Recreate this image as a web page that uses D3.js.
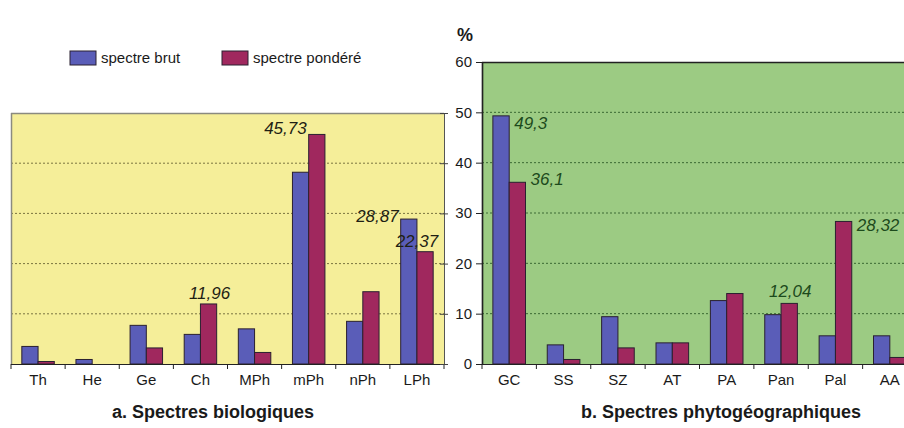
<!DOCTYPE html>
<html>
<head>
<meta charset="utf-8">
<script src="https://cdn.jsdelivr.net/npm/d3@7"></script>
<style>
  body { margin: 0; background: #fff; }
  svg { display: block; font-family: "Liberation Sans", Arial, sans-serif; }
</style>
</head>
<body>
<svg id="chart"></svg>
<script>
var series = ["brut", "pondere"],
    seriesNames = ["spectre brut", "spectre pondéré"],
    colors = ["#5a5db8", "#a0285e"]

// a. spectres biologiques
var catsA = ["Th", "He", "Ge", "Ch", "MPh", "mPh", "nPh", "LPh"],
    brutA = [3.5, 0.9, 7.7, 5.9, 7.0, 38.2, 8.5, 28.87],
    pondA = [0.5, 0, 3.2, 11.96, 2.3, 45.73, 14.4, 22.37]

// b. spectres phytogéographiques
var catsB = ["GC", "SS", "SZ", "AT", "PA", "Pan", "Pal", "AA"],
    brutB = [49.3, 3.8, 9.4, 4.2, 12.6, 9.8, 5.6, 5.6],
    pondB = [36.1, 0.9, 3.2, 4.2, 14.0, 12.04, 28.32, 1.3]

var ticksB = [0, 10, 20, 30, 40, 50, 60]

var labelsA = [["mPh", 1, "45,73"], ["LPh", 0, "28,87"], ["Ch", 1, "11,96"], ["LPh", 1, "22,37"]],
    labelsB = [["GC", 0, "49,3"], ["GC", 1, "36,1"], ["Pan", 1, "12,04"], ["Pal", 1, "28,32"]]

var svg = d3.select("#chart")
    .attr("width", 904)
    .attr("height", 428)

svg.append("rect").attr("width", 904).attr("height", 428).attr("fill", "#fff")

var y0 = 364

var yA = d3.scaleLinear().domain([0, 50]).range([y0, 113]),
    yB = d3.scaleLinear().domain([0, 60]).range([y0, 62])

function panel(opt) {
    var x0 = d3.scaleBand().domain(opt.cats).range([opt.left, opt.right]),
        bw = x0.bandwidth(),
        x1 = d3.scaleBand().domain(d3.range(2)).range([bw * 0.2, bw * 0.8]),
        y = opt.y,
        top = y.range()[1]
    var g = svg.append("g")

    g.append("rect")
        .attr("x", opt.left).attr("y", top)
        .attr("width", opt.right - opt.left).attr("height", y0 - top)
        .attr("fill", opt.bg)

    // grid
    g.selectAll(".grid")
        .data(opt.grid)
        .enter().append("line")
        .attr("x1", opt.left).attr("x2", opt.right)
        .attr("y1", d => y(d)).attr("y2", d => y(d))
        .style("stroke", opt.gridColor)
        .style("stroke-width", "1px")
        .style("stroke-dasharray", "2,2")

    // frame
    g.append("line")
        .attr("x1", opt.left).attr("x2", opt.right)
        .attr("y1", top + 0.5).attr("y2", top + 0.5)
        .style("stroke", opt.frame).style("stroke-width", "1.5px")
    g.append("line")
        .attr("x1", opt.left + 0.5).attr("x2", opt.left + 0.5)
        .attr("y1", top).attr("y2", y0)
        .style("stroke", opt.frame).style("stroke-width", "1.5px")

    // bars
    var rows = opt.cats.map((c, i) => ({cat: c, vals: [opt.brut[i], opt.pond[i]]}))
    g.selectAll(".grp")
        .data(rows)
        .enter().append("g")
        .attr("transform", d => "translate(" + x0(d.cat) + ",0)")
        .selectAll("rect")
        .data(d => d.vals.map((v, k) => ({k: k, v: v})))
        .enter().append("rect")
        .attr("x", d => x1(d.k))
        .attr("y", d => y(d.v))
        .attr("width", x1.bandwidth())
        .attr("height", d => y0 - y(d.v))
        .attr("fill", d => colors[d.k])
        .style("stroke", "#2a2030")
        .style("stroke-width", d => d.v > 0 ? "1px" : "0px")

    // x axis
    g.append("line")
        .attr("x1", opt.left).attr("x2", opt.right)
        .attr("y1", y0 + 0.5).attr("y2", y0 + 0.5)
        .style("stroke", "#222").style("stroke-width", "1.2px")
    var edges = opt.cats.map(c => x0(c)).concat([opt.right])
    g.selectAll(".xt")
        .data(edges)
        .enter().append("line")
        .attr("x1", d => d).attr("x2", d => d)
        .attr("y1", y0).attr("y2", y0 + 5)
        .style("stroke", "#222").style("stroke-width", "1px")
    g.selectAll(".xl")
        .data(opt.cats)
        .enter().append("text")
        .attr("x", d => x0(d) + bw / 2)
        .attr("y", 385)
        .attr("text-anchor", "middle")
        .style("font-size", "15px")
        .style("fill", "#1a1a1a")
        .text(d => d)

    // value labels
    g.selectAll(".vl")
        .data(opt.labels)
        .enter().append("text")
        .each(function (d) {
            var cat = d[0], k = d[1], v = k ? opt.pond[opt.cats.indexOf(cat)] : opt.brut[opt.cats.indexOf(cat)]
            var bx = x0(cat) + x1(k), by = y(v), p = opt.place[d[2]], t = d3.select(this)
            if (p[0] == "left") t.attr("x", bx - 2).attr("text-anchor", "end")
            else if (p[0] == "right") t.attr("x", bx + x1.bandwidth() + 5).attr("text-anchor", "start")
            else if (p[0] == "edge") t.attr("x", bx).attr("text-anchor", "middle")
            else t.attr("x", bx + x1.bandwidth() / 2 + 1).attr("text-anchor", "middle")
            t.attr("y", by + p[1])
        })
        .style("font-size", "17px")
        .style("font-style", "italic")
        .style("fill", opt.labelColor)
        .text(d => d[2])

    g.append("text")
        .attr("x", opt.titleX)
        .attr("y", 418)
        .attr("text-anchor", "middle")
        .style("font-size", "18px")
        .style("font-weight", "bold")
        .style("fill", "#1a1a1a")
        .text(opt.title)

    return g
}

panel({
    cats: catsA, brut: brutA, pond: pondA, y: yA,
    left: 11, right: 444, bg: "#f5ee99", gridColor: "#7a7440", frame: "#8a8a80",
    grid: [10, 20, 30, 40], labels: labelsA, labelColor: "#1f1f14",
    place: {"45,73": ["left", 0], "28,87": ["left", 3], "11,96": ["above", -5], "22,37": ["edge", -5]},
    title: "a. Spectres biologiques", titleX: 213
})

// right side ticks of panel a
svg.append("g")
    .attr("transform", "translate(444,0)")
    .call(d3.axisRight(yA).tickValues([0, 10, 20, 30, 40, 50]).tickSize(4).tickFormat(""))
    .call(g => g.select(".domain").style("stroke", "#555"))
    .call(g => g.selectAll(".tick line").attr("x1", -4).style("stroke", "#444"))

panel({
    cats: catsB, brut: brutB, pond: pondB, y: yB,
    left: 482, right: 917, bg: "#9ccb83", gridColor: "#3c6a34", frame: "#222",
    grid: [10, 20, 30, 40, 50], labels: labelsB, labelColor: "#1c4a1c",
    place: {"49,3": ["right", 13], "36,1": ["right", 3], "12,04": ["above", -6], "28,32": ["right", 10]},
    title: "b. Spectres phytogéographiques", titleX: 721
})

var axB = svg.append("g")
    .attr("transform", "translate(482,0)")
    .call(d3.axisLeft(yB).tickValues(ticksB).tickSize(6).tickSizeOuter(0))
axB.select(".domain").style("stroke", "#222").style("stroke-width", "1.2px")
axB.selectAll(".tick line").style("stroke", "#222")
axB.selectAll(".tick text")
    .attr("x", -10)
    .style("font-family", "\"Liberation Sans\", Arial, sans-serif")
    .style("font-size", "15px")
    .style("fill", "#1a1a1a")

svg.append("text")
    .attr("x", 457).attr("y", 41)
    .style("font-size", "18px").style("font-weight", "bold")
    .style("fill", "#1a1a1a")
    .text("%")

// legend
var leg = svg.append("g").selectAll("g")
    .data(seriesNames)
    .enter().append("g")
    .attr("transform", (d, i) => "translate(" + [70, 222][i] + ",51)")
leg.append("rect")
    .attr("width", 26).attr("height", 14)
    .attr("fill", (d, i) => colors[i])
    .style("stroke", "#2a2030").style("stroke-width", "1px")
leg.append("text")
    .attr("x", 31).attr("y", 12)
    .style("font-size", "15px")
    .style("fill", "#1a1a1a")
    .text(d => d)
</script>
</body>
</html>
